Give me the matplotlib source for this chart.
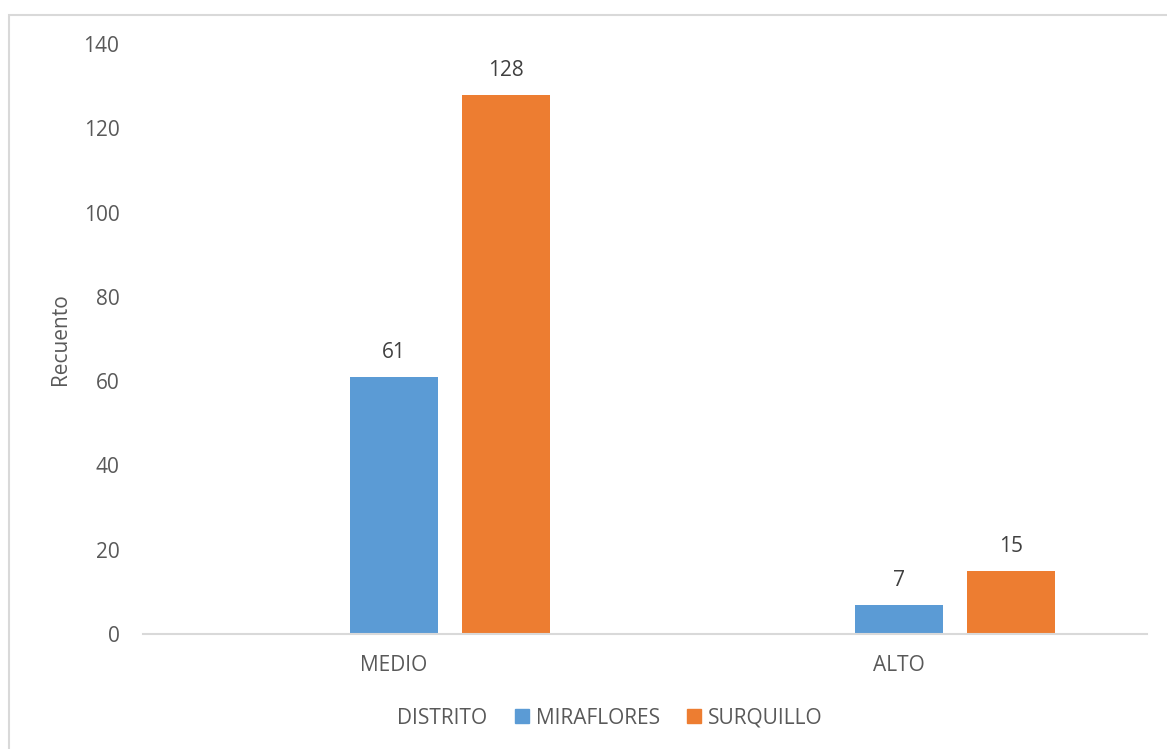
import matplotlib.pyplot as plt
from matplotlib.patches import Patch, Rectangle

categories = ['MEDIO', 'ALTO']
miraflores = [61, 7]
surquillo = [128, 15]
legend_title = 'DISTRITO'
series_names = ['MIRAFLORES', 'SURQUILLO']
y_ticks = [0, 20, 40, 60, 80, 100, 120, 140]

blue = '#5B9BD5'
orange = '#ED7D31'
grey_text = '#595959'
fs = 15

plt.rcParams['font.family'] = ['Open Sans', 'DejaVu Sans']

fig = plt.figure(figsize=(11.67, 7.49), dpi=100)
ax = fig.add_axes([143 / 1167, 1 - 634 / 749, 1004 / 1167, 590 / 749])

# chart frame (only top/left edges visible in the crop)
fig.patches.append(Rectangle((8.5 / 1167, -0.1), 2, (749 - 15.5) / 749 + 0.1,
                             transform=fig.transFigure, fill=False,
                             edgecolor='#D9D9D9', linewidth=1.5))

unit = 505
w = 88 / unit
step = 112 / unit
x = list(range(len(categories)))
ax.bar(x, miraflores, width=w, color=blue, label=series_names[0])
ax.bar([i + step for i in x], surquillo, width=w, color=orange, label=series_names[1])

for i in x:
    ax.text(i, miraflores[i] + 3.2, str(miraflores[i]), ha='center', va='bottom',
            fontsize=fs, color='#404040')
    ax.text(i + step, surquillo[i] + 3.2, str(surquillo[i]), ha='center', va='bottom',
            fontsize=fs, color='#404040')

left = -(394 - 143) / unit
ax.set_xlim(left, left + 1004 / unit)
ax.set_ylim(0, 140)
ax.set_yticks(y_ticks)
ax.set_xticks(x)
ax.set_xticklabels(categories)
ax.tick_params(axis='both', length=0, labelsize=fs, colors=grey_text)
ax.tick_params(axis='y', pad=17)
ax.tick_params(axis='x', pad=15)
for s in ['top', 'right', 'left']:
    ax.spines[s].set_visible(False)
ax.spines['bottom'].set_color('#D9D9D9')
ax.spines['bottom'].set_linewidth(1.5)

ax.set_ylabel('Recuento', fontsize=fs, color=grey_text)
ax.yaxis.set_label_coords(-72 / 1004, 0.5)

fig.text(397 / 1167, 1 - 718 / 749, legend_title, fontsize=fs, color=grey_text,
         ha='left', va='center')
handles = [Patch(color=blue, label=series_names[0]), Patch(color=orange, label=series_names[1])]
fig.legend(handles=handles, loc='center left', bbox_to_anchor=(515 / 1167, 1 - 718 / 749),
           ncol=2, frameon=False, fontsize=fs, labelcolor=grey_text,
           handlelength=0.65, handleheight=0.65, handletextpad=0.35, columnspacing=1.3,
           borderpad=0, borderaxespad=0)

fig.savefig('out.png', dpi=100)
